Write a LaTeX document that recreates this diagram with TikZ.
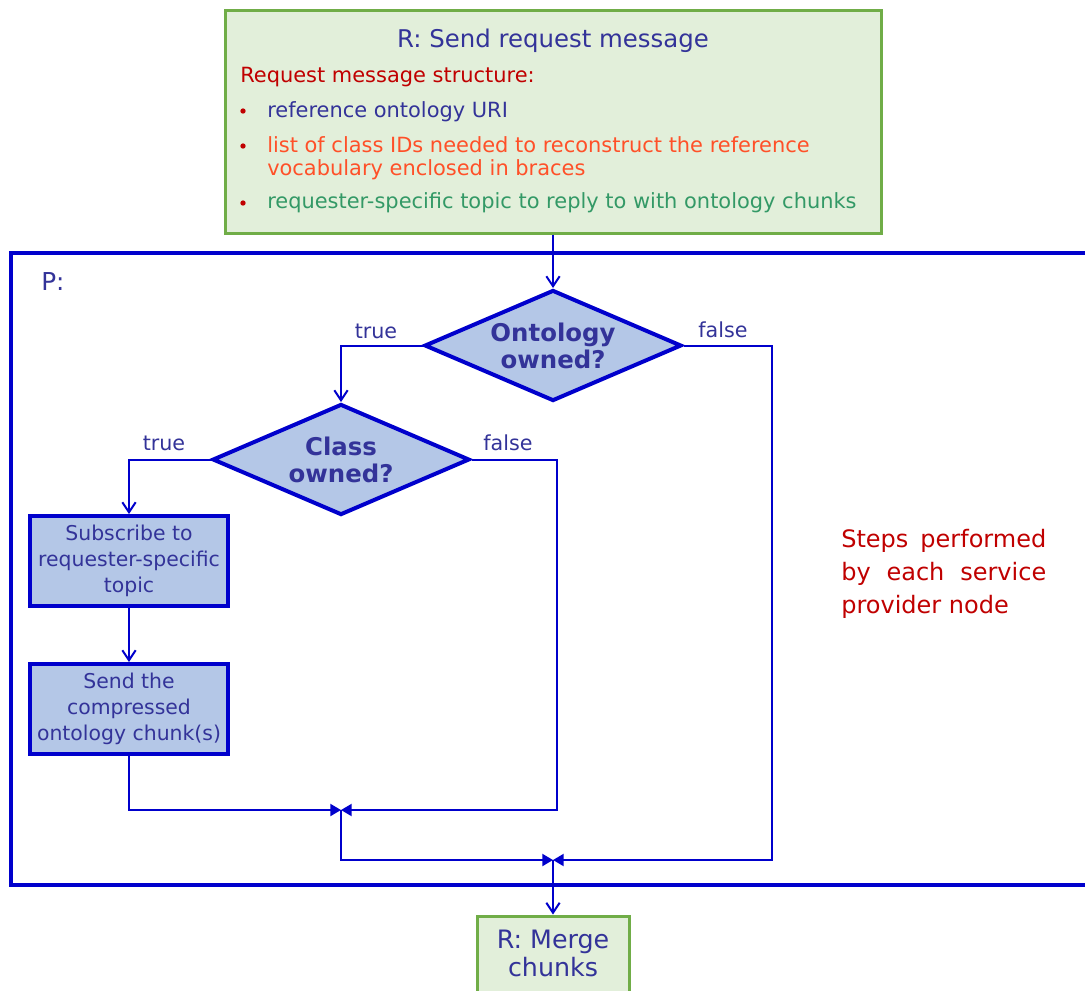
\documentclass[tikz,border=0pt]{standalone}
\usepackage{fontspec}
\setmainfont{DejaVu Sans}
\usetikzlibrary{shapes.geometric,arrows.meta}
\definecolor{txtblue}{RGB}{51,51,153}
\definecolor{boxfill}{RGB}{180,199,231}
\definecolor{lineblue}{RGB}{0,0,204}
\definecolor{grfill}{RGB}{226,239,218}
\definecolor{grline}{RGB}{112,173,71}
\definecolor{dkred}{RGB}{192,0,0}
\definecolor{orng}{RGB}{255,80,40}
\definecolor{grtxt}{RGB}{51,153,102}
\tikzset{
  procbox/.style={draw=lineblue,line width=3pt,fill=boxfill,text=txtblue,align=center,
    minimum width=148.5pt,minimum height=67.5pt,inner sep=0pt,
    font=\fontsize{15.3}{19.5}\selectfont},
  decision/.style={diamond,aspect=2.3,draw=lineblue,line width=3pt,fill=boxfill,text=txtblue,align=center,
    minimum width=192.75pt,minimum height=83.25pt,inner sep=0pt,
    font=\bfseries\fontsize{18.3}{20.25}\selectfont},
  rbox/.style={draw=grline,line width=2.25pt,fill=grfill,text=txtblue,inner sep=0pt},
  conn/.style={draw=lineblue,line width=1.5pt},
  openarrow/.style={conn,-{Straight Barb[length=7.5pt,width=10pt,line width=1.5pt]}},
  filledarrow/.style={conn,-{Triangle[length=8pt,width=9pt]}},
  lbl/.style={text=txtblue,font=\fontsize{15.5}{18}\selectfont,inner sep=0pt},
  bodytxt/.style={anchor=base west,inner sep=0pt,font=\fontsize{15.7}{19.5}\selectfont},
  bullet/.style={circle,fill=dkred,inner sep=0pt,minimum size=4pt}
}
\begin{document}
\begin{tikzpicture}[x=0.75pt,y=-0.75pt]
\clip (0,0) rectangle (1085,990);
\fill[white] (0,0) rectangle (1085,990);
% P frame
\draw[draw=lineblue,line width=3pt] (1090,253) -- (11,253) -- (11,885) -- (1090,885);
\node[text=txtblue,anchor=base west,inner sep=0pt,font=\fontsize{18.5}{20}\selectfont] (plabel) at (41,290) {P:};
% top request box
\node[rbox,minimum width=492pt,minimum height=167.25pt] (top) at (553,121.5) {};
\node[text=txtblue,anchor=base,inner sep=0pt,font=\fontsize{18.3}{23}\selectfont] (title) at (553,47) {R: Send request message};
\node[bodytxt,text=dkred] (struct) at (240,82) {Request message structure:};
\node[bullet] (b1) at (243,111) {};
\node[bodytxt,text=txtblue] (t1) at (267,117) {reference ontology URI};
\node[bullet] (b2) at (243,146) {};
\node[bodytxt,text=orng] (t2a) at (267,152) {list of class IDs needed to reconstruct the reference};
\node[bodytxt,text=orng] (t2b) at (267,175) {vocabulary enclosed in braces};
\node[bullet] (b3) at (243,203) {};
\node[bodytxt,text=grtxt] (t3) at (267,208) {requester-specific topic to reply to with ontology chunks};
% decisions
\node[decision] (ont) at (553,345.5) {\raisebox{1.5pt}{\parbox{100pt}{\centering Ontology\\owned?}}};
\node[decision] (cls) at (341,459.5) {\raisebox{1.5pt}{\parbox{100pt}{\centering Class\\owned?}}};
% process boxes
\node[procbox] (sub) at (129,561) {Subscribe to\\requester-specific\\topic};
\node[procbox] (send) at (129,709) {Send the\\compressed\\ontology chunk(s)};
% merge box
\node[rbox,minimum width=114pt,minimum height=75pt] (merge) at (553,966) {};
\node[text=txtblue,inner sep=0pt,align=center,font=\fontsize{19}{21}\selectfont] (mtext) at (553,953) {R: Merge\\chunks};
% steps text
\node[text=dkred,anchor=base west,inner sep=0pt,text width=153.75pt,align=justify,
  font=\fontsize{18}{24.75}\selectfont] (steps) at (841,547) {Steps performed by each service provider node};
% coordinates
\coordinate (m1) at (341,810);
\coordinate (m2) at (553,860);
\coordinate (cf) at (557,810);
\coordinate (of) at (772,860);
% connectors
\draw[openarrow] (top.south) -- (ont.north);
\draw[openarrow] (ont.west) -| (cls.north);
\draw[openarrow] (cls.west) -| (sub.north);
\draw[openarrow] (sub.south) -- (send.north);
\draw[filledarrow] (send.south) |- (m1);
\draw[filledarrow] (cls.east) -| (cf) -- (m1);
\draw[filledarrow] (m1) |- (m2);
\draw[filledarrow] (ont.east) -| (of) -- (m2);
\draw[openarrow] (m2) -- (merge.north);
% labels
\node[lbl] (lt1) at (376,331) {true};
\node[lbl] (lf1) at (723,330) {false};
\node[lbl] (lt2) at (164,443) {true};
\node[lbl] (lf2) at (508,443) {false};
\end{tikzpicture}
\end{document}
